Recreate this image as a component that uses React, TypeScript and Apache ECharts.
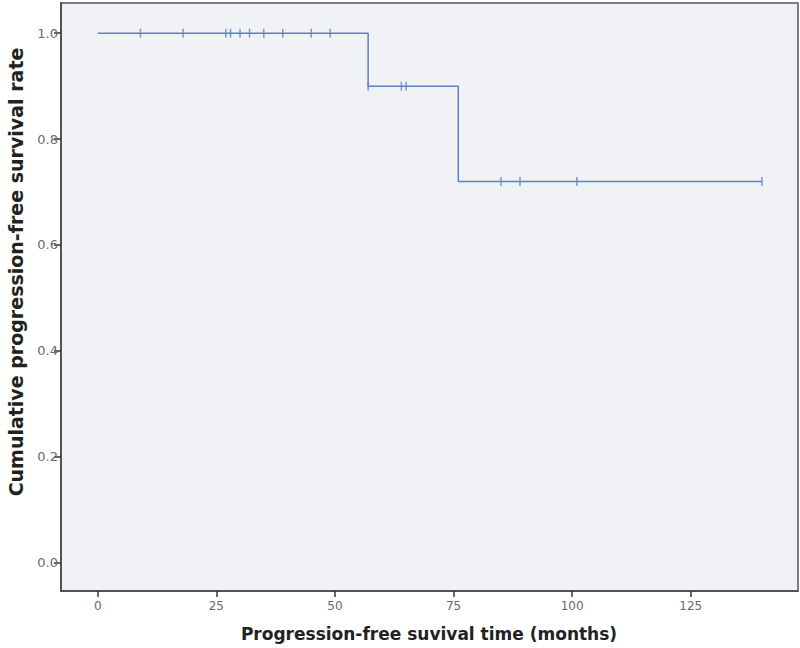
import React, { useEffect, useRef } from "react";
import * as echarts from "echarts";

const stepTimes = [0, 57, 76, 140];
const stepSurvival = [1.0, 0.9, 0.72, 0.72];
const censorTimes = [9, 18, 27, 28, 30, 32, 35, 39, 45, 49, 57, 64, 65, 85, 89, 101, 140];
const censorSurvival = [1.0, 1.0, 1.0, 1.0, 1.0, 1.0, 1.0, 1.0, 1.0, 1.0, 0.9, 0.9, 0.9, 0.72, 0.72, 0.72, 0.72];
const xTicks = [0, 25, 50, 75, 100, 125];
const yTicks = [0, 0.2, 0.4, 0.6, 0.8, 1.0];
const xTitle = "Progression-free suvival time (months)";
const yTitle = "Cumulative progression-free survival rate";

export default function App() {
  const ref = useRef<HTMLDivElement>(null);
  useEffect(() => {
    if (!ref.current) return;
    const chart = echarts.init(ref.current, undefined, { renderer: "svg" });
    const lineColor = "#5b80c8";
    chart.setOption({
      animation: false,
      grid: {
        left: 61,
        top: 3,
        right: 2,
        bottom: 57,
        show: true,
        backgroundColor: "#f1f2f6",
        borderColor: "#555",
        borderWidth: 1.5,
      },
      xAxis: {
        type: "value",
        min: -7.74,
        max: 147.6,
        axisLine: { show: true, onZero: false, lineStyle: { color: "#444", width: 1.5 } },
        axisTick: { show: true, inside: false, length: 6, customValues: xTicks, lineStyle: { color: "#333", width: 1.5 } },
        axisLabel: {
          customValues: xTicks,
          color: "#666a70",
          fontFamily: "DejaVu Sans",
          fontSize: 12,
          margin: 9,
        },
        splitLine: { show: false },
      },
      yAxis: {
        type: "value",
        min: -0.0535,
        max: 1.057,
        axisLine: { show: true, onZero: false, lineStyle: { color: "#444", width: 1.5 } },
        axisTick: { show: true, inside: false, length: 7, customValues: yTicks, lineStyle: { color: "#333", width: 1.5 } },
        axisLabel: {
          customValues: yTicks,
          formatter: (v: number) => v.toFixed(1),
          color: "#666a70",
          fontFamily: "DejaVu Sans",
          fontSize: 13,
          margin: 3,
        },
        splitLine: { show: false },
      },
      graphic: [
        {
          type: "text",
          x: 429,
          y: 634,
          style: {
            text: xTitle,
            fill: "#222",
            font: "bold 17px 'DejaVu Sans'",
            textAlign: "center",
            textVerticalAlign: "middle",
          },
        },
        {
          type: "text",
          x: 16,
          y: 272,
          rotation: Math.PI / 2,
          style: {
            text: yTitle,
            fill: "#222",
            font: "bold 19px 'DejaVu Sans'",
            textAlign: "center",
            textVerticalAlign: "middle",
          },
        },
      ],
      series: [
        {
          type: "line",
          step: "end",
          data: stepTimes.map((t, i) => [t, stepSurvival[i]]),
          showSymbol: false,
          lineStyle: { color: lineColor, width: 1.5 },
          itemStyle: { color: lineColor },
        },
        {
          type: "scatter",
          data: censorTimes.map((t, i) => [t, censorSurvival[i]]),
          symbol: "rect",
          symbolSize: [1.5, 9],
          itemStyle: { color: lineColor },
        },
      ],
    });
    return () => chart.dispose();
  }, []);
  return <div ref={ref} style={{ width: 800, height: 648, position: "absolute", left: 0, top: 0 }} />;
}
